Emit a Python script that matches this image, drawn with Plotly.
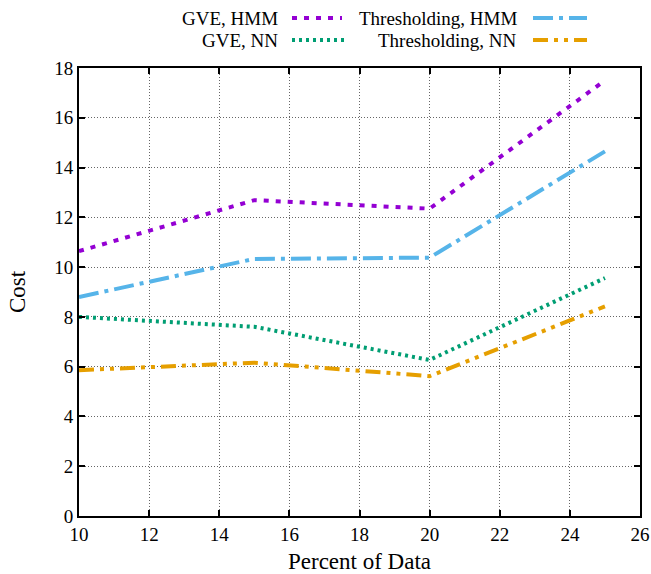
import plotly.graph_objects as go

# Percent of data used and the resulting cost for each method
percent = [10, 15, 20, 25]
gve_hmm = [10.64, 12.69, 12.35, 17.5]
thr_hmm = [8.8, 10.33, 10.38, 14.65]
gve_nn = [8.0, 7.6, 6.27, 9.56]
thr_nn = [5.86, 6.16, 5.62, 8.42]

series = [
    ("GVE, HMM", gve_hmm, "#9400D3", "5px,7px"),
    ("GVE, NN", gve_nn, "#009E73", "3px,4px"),
    ("Thresholding, HMM", thr_hmm, "#56B4E9", "20px,6px,4px,6px"),
    ("Thresholding, NN", thr_nn, "#E69F00", "15px,6px,4px,6px,4px,6px"),
]

FONT = "'Liberation Serif', 'Times New Roman', Times, serif"

fig = go.Figure()
for name, ys, color, dash in series:
    fig.add_trace(go.Scatter(
        x=percent, y=ys, mode="lines", name=name,
        line=dict(color=color, width=4, dash=dash),
        showlegend=False,
    ))

# gnuplot-style key: right-aligned label followed by a line sample
key = [
    ("GVE, HMM", 280, 18, 292, 342, "#9400D3", "5px,7px"),
    ("GVE, NN", 280, 40, 292, 344, "#009E73", "3px,4px"),
    ("Thresholding, HMM", 519, 18, 533, 587, "#56B4E9", "20px,6px,4px,6px"),
    ("Thresholding, NN", 519, 40, 533, 587, "#E69F00", "15px,6px,4px,6px,4px,6px"),
]
W, H = 651, 574
ML, MR, MT, MB = 79, 11, 68, 58
pw, ph = W - ML - MR, H - MT - MB


def px_x(x):
    return (x - ML) / pw


def px_y(y):
    return (H - MB - y) / ph


for label, tx, ty, x0, x1, color, dash in key:
    fig.add_annotation(
        x=px_x(tx), y=px_y(ty), xref="paper", yref="paper",
        text=label, showarrow=False, xanchor="right", yanchor="middle",
        font=dict(family=FONT, size=19, color="black"),
    )
    fig.add_shape(
        type="line", xref="paper", yref="paper",
        x0=px_x(x0), x1=px_x(x1), y0=px_y(ty), y1=px_y(ty),
        line=dict(color=color, width=4, dash=dash),
    )

axis_common = dict(
    showline=True, linecolor="black", linewidth=2, mirror="ticks",
    ticks="inside", ticklen=6, tickwidth=2, tickcolor="black",
    showgrid=True, gridcolor="#666666", griddash="1px,2px", gridwidth=1,
    zeroline=False, automargin=False,
    tickfont=dict(family=FONT, size=19, color="black"),
)

fig.update_xaxes(
    range=[10, 26], dtick=2, tick0=10,
    title=dict(text="Percent of Data", font=dict(family=FONT, size=23, color="black"), standoff=12),
    **axis_common,
)
fig.update_yaxes(
    range=[0, 18], dtick=2, tick0=0,
    title=dict(text="Cost", font=dict(family=FONT, size=23, color="black"), standoff=22),
    **axis_common,
)

fig.update_layout(
    width=W, height=H,
    margin=dict(l=ML, r=MR, t=MT, b=MB),
    paper_bgcolor="white", plot_bgcolor="white",
    font=dict(family=FONT, color="black"),
)

fig.write_html("out.html")
